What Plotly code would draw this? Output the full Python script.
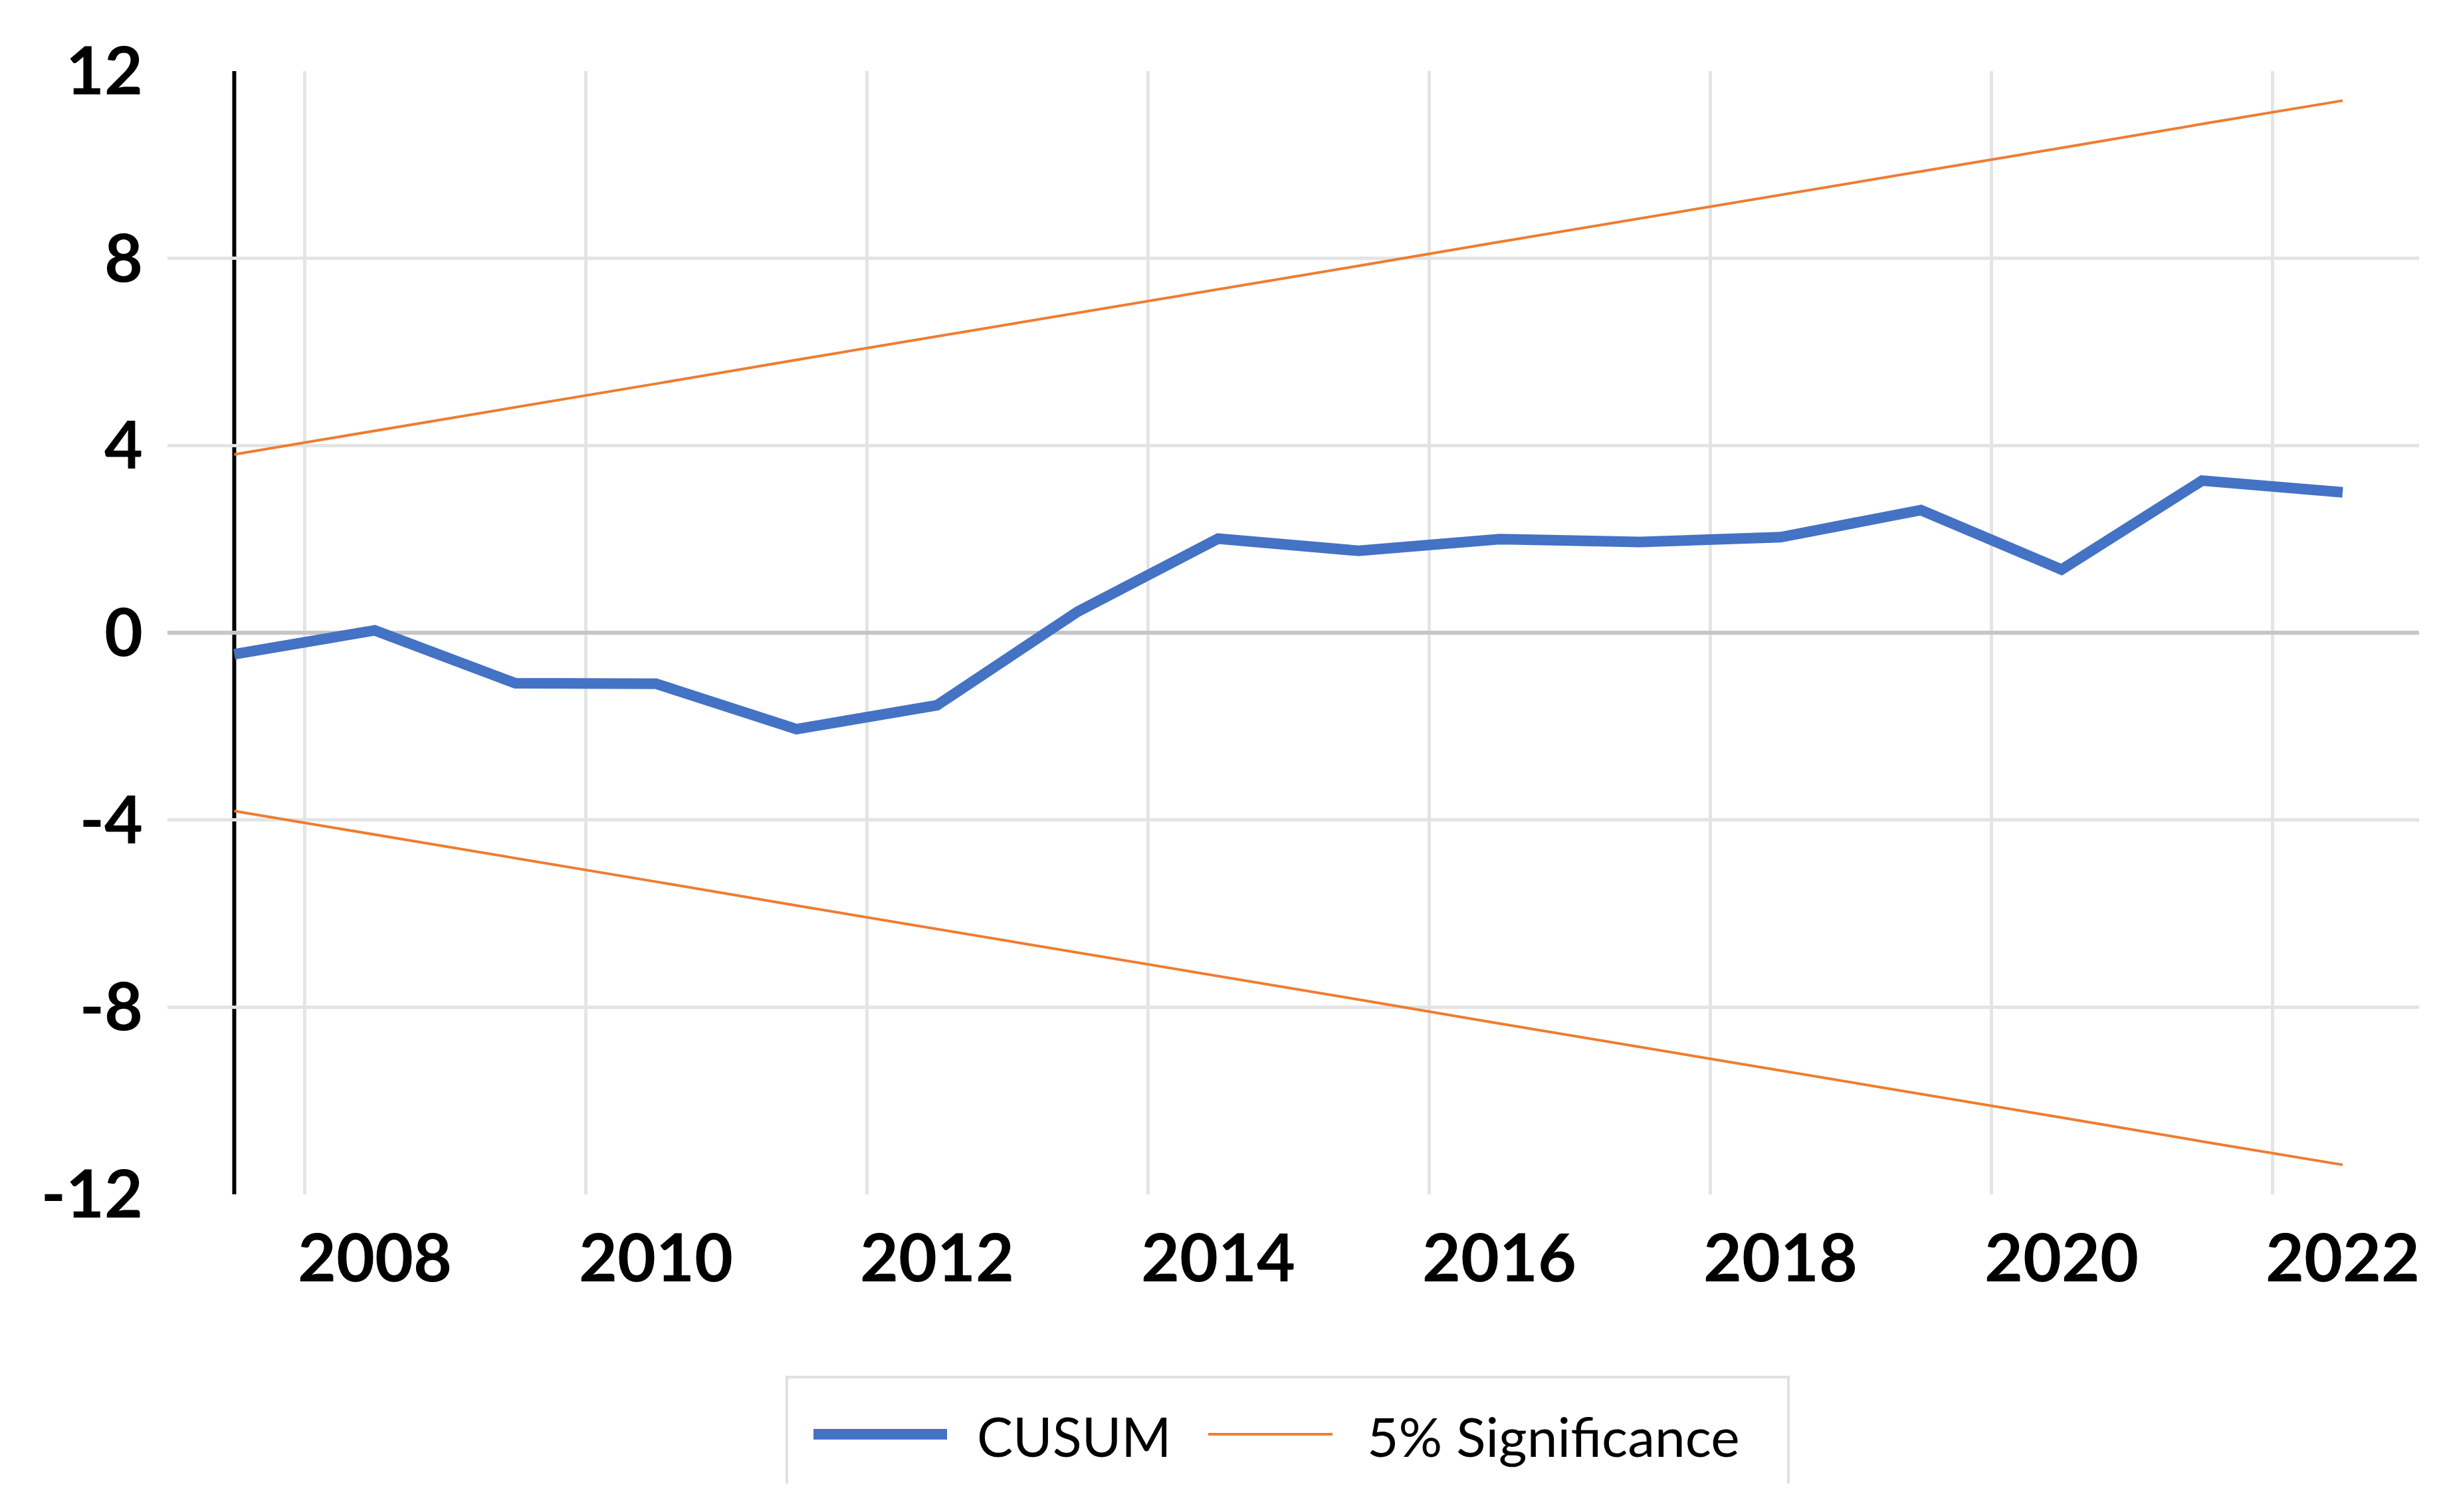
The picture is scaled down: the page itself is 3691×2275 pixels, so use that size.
import plotly.graph_objects as go

# ---------------- data ----------------
years = [2007, 2008, 2009, 2010, 2011, 2012, 2013, 2014,
         2015, 2016, 2017, 2018, 2019, 2020, 2021, 2022]
cusum = [-0.46, 0.05, -1.08, -1.09, -2.06, -1.55, 0.45, 2.01,
         1.75, 2.00, 1.94, 2.04, 2.62, 1.35, 3.25, 3.00]
upper_5pct = [3.81, 4.31, 4.82, 5.32, 5.83, 6.33, 6.83, 7.34,
              7.84, 8.35, 8.85, 9.35, 9.86, 10.36, 10.87, 11.37]
lower_5pct = [-3.81, -4.31, -4.82, -5.32, -5.83, -6.33, -6.83, -7.34,
              -7.84, -8.35, -8.85, -9.35, -9.86, -10.36, -10.87, -11.37]

x_tick_vals = [2008, 2010, 2012, 2014, 2016, 2018, 2020, 2022]
x_tick_text = ["2008", "2010", "2012", "2014", "2016", "2018", "2020", "2022"]
x_grid_vals = [2007.5, 2009.5, 2011.5, 2013.5, 2015.5, 2017.5, 2019.5, 2021.5]
y_tick_vals = [-12, -8, -4, 0, 4, 8, 12]
y_tick_text = ["-12", "-8", "-4", "0", "4", "8", "12"]
y_grid_vals = [-8, -4, 4, 8]

series_names = ["CUSUM", "5% Significance"]

# ---------------- styling ----------------
OFF = 8  # default page body margin
W, H = 3691 - 2 * OFF, 2275 - 2 * OFF
L, R, T, B = 252 - OFF, 3640 - OFF, 107 - OFF, 1797 - OFF
BLUE = "#4472C4"
ORANGE = "#ED7D31"
GRID = "#E4E4E4"
FONT = "Lato"


def px(xp):
    return (xp - OFF - L) / (R - L)


def py(yp):
    return (B - (yp - OFF)) / (B - T)


fig = go.Figure()
fig.add_trace(go.Scatter(x=years, y=cusum, mode="lines", name=series_names[0],
                         line=dict(color=BLUE, width=16), xaxis="x", yaxis="y2"))
fig.add_trace(go.Scatter(x=years, y=upper_5pct, mode="lines", name=series_names[1],
                         line=dict(color=ORANGE, width=4), xaxis="x", yaxis="y2"))
fig.add_trace(go.Scatter(x=years, y=lower_5pct, mode="lines", name=series_names[1],
                         line=dict(color=ORANGE, width=4), xaxis="x", yaxis="y2",
                         showlegend=False))
# empty trace to anchor the labelled axis
fig.add_trace(go.Scatter(x=[], y=[], xaxis="x", yaxis="y", showlegend=False))

fig.update_layout(
    width=W, height=H,
    margin=dict(l=L, r=W - R, t=T, b=H - B, pad=0),
    paper_bgcolor="white", plot_bgcolor="white",
    showlegend=False,
    xaxis=dict(
        range=[2006.525, 2022.544],
        tickmode="array", tickvals=x_tick_vals, ticktext=x_tick_text,
        showgrid=False, zeroline=False, showline=False, ticks="",
        tickfont=dict(family=FONT, size=100, color="black", weight="bold"),
        ticklabelstandoff=30,
        minor=dict(tickmode="array", tickvals=x_grid_vals, showgrid=True,
                   gridcolor=GRID, gridwidth=5, ticks=""),
    ),
    yaxis=dict(
        range=[-12, 12],
        tickmode="array", tickvals=y_tick_vals, ticktext=y_tick_text,
        showgrid=False, zeroline=False, showline=False, ticks="",
        tickfont=dict(family=FONT, size=100, color="black", weight="bold"),
        ticklabelstandoff=36,
    ),
    yaxis2=dict(
        range=[-12, 12], overlaying="y", side="left",
        tickmode="array", tickvals=y_grid_vals,
        showticklabels=False, showgrid=True, gridcolor=GRID, gridwidth=5,
        zeroline=True, zerolinecolor="#C6C6C6", zerolinewidth=6,
        showline=False, ticks="",
    ),
)

# vertical axis line at the first observation
fig.add_shape(type="line", xref="x", yref="paper", x0=years[0], x1=years[0],
              y0=0, y1=1, line=dict(color="black", width=6), layer="between")

# ---------------- legend (drawn manually) ----------------
fig.add_shape(type="path", xref="paper", yref="paper",
              path=f"M {px(1184)},{py(2232)} L {px(1184)},{py(2072)} "
                   f"L {px(2691)},{py(2072)} L {px(2691)},{py(2232)}",
              line=dict(color="#E0E0E0", width=4))
fig.add_shape(type="line", xref="paper", yref="paper",
              x0=px(1224), x1=px(1425), y0=py(2158), y1=py(2158),
              line=dict(color=BLUE, width=16))
fig.add_shape(type="line", xref="paper", yref="paper",
              x0=px(1818), x1=px(2005), y0=py(2158), y1=py(2158),
              line=dict(color=ORANGE, width=4))
fig.add_annotation(xref="paper", yref="paper", x=px(1468), y=py(2160),
                   xanchor="left", yanchor="middle", showarrow=False,
                   text=series_names[0],
                   font=dict(family=FONT, size=81, color="black"))
fig.add_annotation(xref="paper", yref="paper", x=px(2055), y=py(2160),
                   xanchor="left", yanchor="middle", showarrow=False,
                   text=series_names[1],
                   font=dict(family=FONT, size=82, color="black"))

fig.write_html("out.html")
